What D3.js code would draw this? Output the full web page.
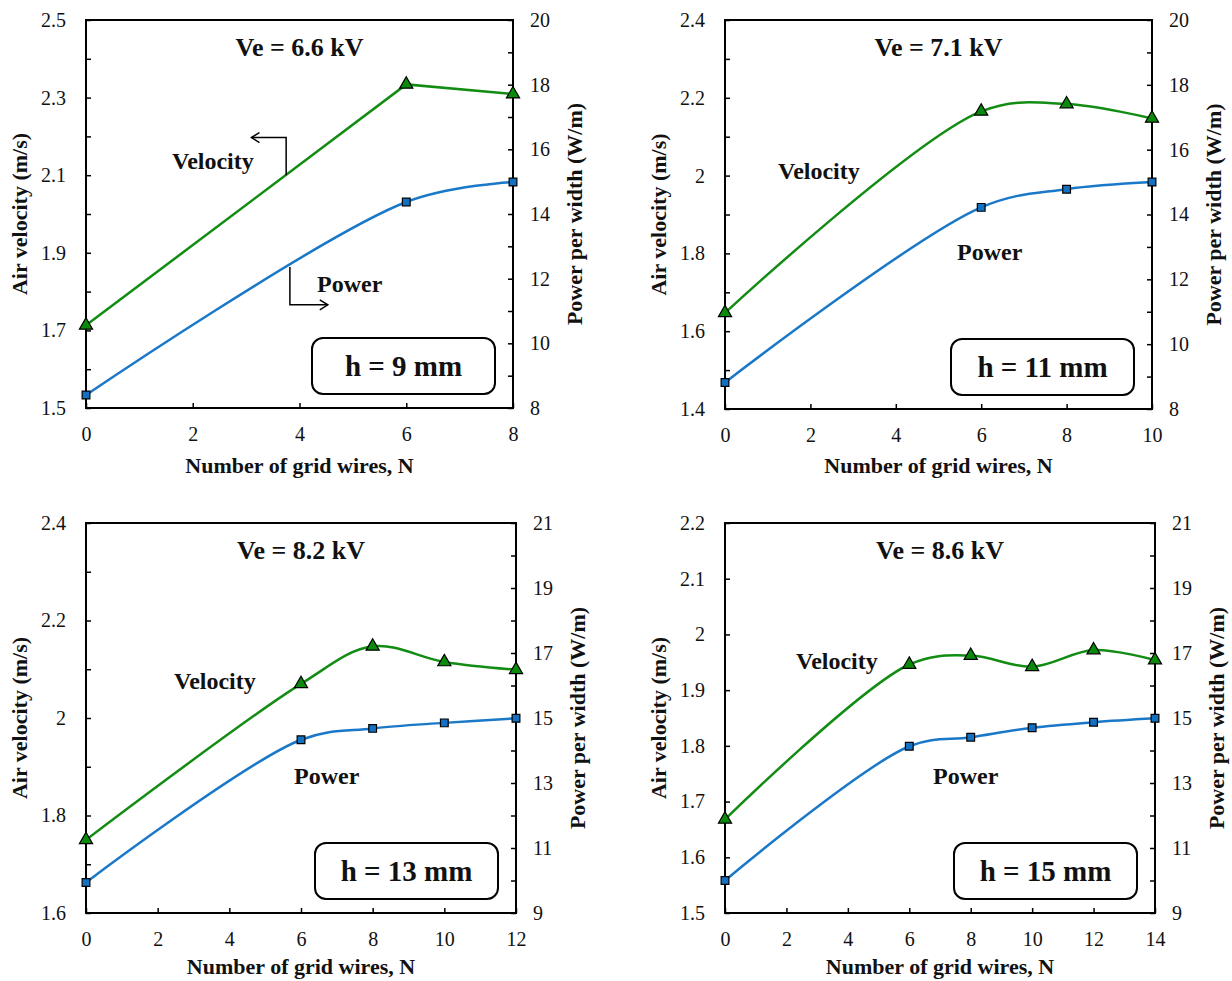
<!DOCTYPE html>
<html><head><meta charset="utf-8">
<script src="https://cdn.jsdelivr.net/npm/d3@7"></script>
<style>body{margin:0;background:#fff} svg text{font-family:'Liberation Serif','Times New Roman',serif;}</style>
</head><body>
<svg id="chart" width="1232" height="981"></svg>
<script>
// ---------- data ----------
const n1 = [0, 6, 8];
const vel1 = [1.713, 2.334, 2.309];
const pow1 = [8.40, 14.37, 14.99];

const n2 = [0, 6, 8, 10];
const vel2 = [1.647, 2.165, 2.184, 2.147];
const pow2 = [8.82, 14.22, 14.78, 15.00];

const n3 = [0, 6, 8, 10, 12];
const vel3 = [1.750, 2.070, 2.147, 2.115, 2.099];
const pow3 = [9.94, 14.33, 14.68, 14.85, 14.99];

const n4 = [0, 6, 8, 10, 12, 14];
const vel4 = [1.668, 1.946, 1.962, 1.942, 1.972, 1.954];
const pow4 = [10.00, 14.13, 14.41, 14.70, 14.87, 14.99];

const voltages = ["Ve = 6.6 kV", "Ve = 7.1 kV", "Ve = 8.2 kV", "Ve = 8.6 kV"];
const gaps = ["h = 9 mm", "h = 11 mm", "h = 13 mm", "h = 15 mm"];

const xTicks1 = [0, 2, 4, 6, 8];
const xTicks2 = [0, 2, 4, 6, 8, 10];
const xTicks3 = [0, 2, 4, 6, 8, 10, 12];
const xTicks4 = [0, 2, 4, 6, 8, 10, 12, 14];

const velTicks1 = [1.5, 1.7, 1.9, 2.1, 2.3, 2.5];
const velLabels1 = ["1.5", "1.7", "1.9", "2.1", "2.3", "2.5"];
const velMinor1 = [1.6, 1.8, 2.0, 2.2, 2.4];
const velTicks2 = [1.4, 1.6, 1.8, 2.0, 2.2, 2.4];
const velLabels2 = ["1.4", "1.6", "1.8", "2", "2.2", "2.4"];
const velMinor2 = [1.5, 1.7, 1.9, 2.1, 2.3];
const velTicks3 = [1.6, 1.8, 2.0, 2.2, 2.4];
const velLabels3 = ["1.6", "1.8", "2", "2.2", "2.4"];
const velMinor3 = [1.7, 1.9, 2.1, 2.3];
const velTicks4 = [1.5, 1.6, 1.7, 1.8, 1.9, 2.0, 2.1, 2.2];
const velLabels4 = ["1.5", "1.6", "1.7", "1.8", "1.9", "2", "2.1", "2.2"];
const velMinor4 = [];

const powTicks1 = [8, 10, 12, 14, 16, 18, 20];
const powMinor1 = [9, 11, 13, 15, 17, 19];
const powTicks2 = [8, 10, 12, 14, 16, 18, 20];
const powMinor2 = [9, 11, 13, 15, 17, 19];
const powTicks3 = [9, 11, 13, 15, 17, 19, 21];
const powMinor3 = [10, 12, 14, 16, 18, 20];
const powTicks4 = [9, 11, 13, 15, 17, 19, 21];
const powMinor4 = [10, 12, 14, 16, 18, 20];

// annotation arrows in panel 1 (data units)
const velArrow = { n: [3.75, 3.75, 3.10], v: [2.10, 2.197, 2.197] };
const powArrow = { n: [3.82, 3.82, 4.53], p: [12.36, 11.19, 11.19] };

// ---------- layout / style ----------
const CR = d3.curveCatmullRom.alpha(0.5);
const panels = [
  { L: 86,  R: 513,  T: 20,  B: 408, n: n1, vel: vel1, pow: pow1, xt: xTicks1, vt: velTicks1, vl: velLabels1, vm: velMinor1, pt: powTicks1, pm: powMinor1,
    velLab: [172, 169], powLab: [317, 292], vCurve: d3.curveLinear, pCurve: CR, titleOff: 65 },
  { L: 725, R: 1152, T: 20,  B: 409, n: n2, vel: vel2, pow: pow2, xt: xTicks2, vt: velTicks2, vl: velLabels2, vm: velMinor2, pt: powTicks2, pm: powMinor2,
    velLab: [778, 179], powLab: [957, 260], vCurve: CR, pCurve: CR, titleOff: 64 },
  { L: 86,  R: 516,  T: 523, B: 913, n: n3, vel: vel3, pow: pow3, xt: xTicks3, vt: velTicks3, vl: velLabels3, vm: velMinor3, pt: powTicks3, pm: powMinor3,
    velLab: [174, 689], powLab: [294, 784], vCurve: CR, pCurve: CR, titleOff: 61 },
  { L: 725, R: 1155, T: 523, B: 913, n: n4, vel: vel4, pow: pow4, xt: xTicks4, vt: velTicks4, vl: velLabels4, vm: velMinor4, pt: powTicks4, pm: powMinor4,
    velLab: [796, 669], powLab: [933, 784], vCurve: CR, pCurve: CR, titleOff: 61 }
];

const GREEN = "#138c13", BLUE = "#1a78c8", MGREEN = "#0a8a0a", MBLUE = "#1470c0";
const SERIF = "'Liberation Serif', 'Times New Roman', serif";
const svg = d3.select("#chart");

function txt(sel, size, bold) {
  return sel.style("font-family", SERIF).style("font-size", size + "px")
    .style("font-weight", bold ? "bold" : "normal").attr("fill", "#111");
}

panels.forEach((p, i) => {
  const g = svg.append("g");
  const x = d3.scaleLinear().domain([p.xt[0], p.xt[p.xt.length - 1]]).range([p.L, p.R]);
  const yv = d3.scaleLinear().domain([p.vt[0], p.vt[p.vt.length - 1]]).range([p.B, p.T]);
  const yp = d3.scaleLinear().domain([p.pt[0], p.pt[p.pt.length - 1]]).range([p.B, p.T]);

  const TL = 5;
  const axB = g.append("g").attr("transform", `translate(0,${p.B})`)
    .call(d3.axisBottom(x).tickValues(p.xt).tickSizeInner(-TL).tickSizeOuter(0).tickPadding(19).tickFormat(d3.format("d")));
  const axL = g.append("g").attr("transform", `translate(${p.L},0)`)
    .call(d3.axisLeft(yv).tickValues(p.vt).tickSizeInner(-TL).tickSizeOuter(0).tickPadding(20).tickFormat((d, k) => p.vl[k]));
  const axLm = g.append("g").attr("transform", `translate(${p.L},0)`)
    .call(d3.axisLeft(yv).tickValues(p.vm).tickSizeInner(-TL).tickSizeOuter(0).tickFormat(""));
  const axR = g.append("g").attr("transform", `translate(${p.R},0)`)
    .call(d3.axisRight(yp).tickValues(p.pt).tickSizeInner(-TL).tickSizeOuter(0).tickPadding(17).tickFormat(d3.format("d")));
  const axRm = g.append("g").attr("transform", `translate(${p.R},0)`)
    .call(d3.axisRight(yp).tickValues(p.pm).tickSizeInner(-TL).tickSizeOuter(0).tickFormat(""));

  [axB, axL, axLm, axR, axRm].forEach(a => {
    a.attr("font-family", null).attr("font-size", null);
    a.select(".domain").remove();
    a.selectAll("line").attr("stroke", "#000").attr("stroke-width", 1.5);
    txt(a.selectAll("text"), 20, false);
  });

  // frame
  g.append("rect").attr("x", p.L).attr("y", p.T).attr("width", p.R - p.L).attr("height", p.B - p.T)
    .attr("fill", "none").attr("stroke", "#000").attr("stroke-width", 2);

  // lines
  const velData = p.n.map((n, k) => ({ n, v: p.vel[k] }));
  const powData = p.n.map((n, k) => ({ n, v: p.pow[k] }));
  g.append("path").datum(velData).attr("fill", "none").attr("stroke", GREEN).attr("stroke-width", 2.5)
    .attr("d", d3.line().x(d => x(d.n)).y(d => yv(d.v)).curve(p.vCurve));
  g.append("path").datum(powData).attr("fill", "none").attr("stroke", BLUE).attr("stroke-width", 2.5)
    .attr("d", d3.line().x(d => x(d.n)).y(d => yp(d.v)).curve(p.pCurve));

  // markers
  g.selectAll(".tri").data(velData).join("path")
    .attr("transform", d => `translate(${x(d.n)},${yv(d.v)})`)
    .attr("d", d3.symbol(d3.symbolTriangle, 75))
    .attr("fill", MGREEN).attr("stroke", "#000").attr("stroke-width", 1.2);
  g.selectAll(".sq").data(powData).join("path")
    .attr("transform", d => `translate(${x(d.n)},${yp(d.v)})`)
    .attr("d", d3.symbol(d3.symbolSquare, 60))
    .attr("fill", MBLUE).attr("stroke", "#000").attr("stroke-width", 1.2);

  // titles
  const cx = (p.L + p.R) / 2, cy = (p.T + p.B) / 2;
  txt(g.append("text").attr("x", cx).attr("y", p.B + p.titleOff).attr("text-anchor", "middle"), 22, true)
    .text("Number of grid wires, N");
  txt(g.append("text").attr("transform", `translate(${p.L - 59},${cy}) rotate(-90)`).attr("text-anchor", "middle"), 22, true)
    .text("Air velocity (m/s)");
  txt(g.append("text").attr("transform", `translate(${p.R + 69},${cy}) rotate(-90)`).attr("text-anchor", "middle"), 22, true)
    .text("Power per width (W/m)");

  // Ve label
  txt(g.append("text").attr("x", cx).attr("y", p.T + 36).attr("text-anchor", "middle"), 26, true)
    .text(voltages[i]);

  // series labels
  txt(g.append("text").attr("x", p.velLab[0]).attr("y", p.velLab[1]), 24, true).text("Velocity");
  txt(g.append("text").attr("x", p.powLab[0]).attr("y", p.powLab[1]), 24, true).text("Power");

  // h box
  const bw = 183, bh = 56, bx = p.R - 18 - bw, by = p.B - 70;
  g.append("rect").attr("x", bx).attr("y", by).attr("width", bw).attr("height", bh).attr("rx", 11)
    .attr("fill", "#fff").attr("stroke", "#000").attr("stroke-width", 2);
  txt(g.append("text").attr("x", bx + bw / 2).attr("y", by + 38).attr("text-anchor", "middle"), 29, true)
    .text(gaps[i]);

  // arrows (panel 1)
  if (i === 0) {
    const va = velArrow.n.map((n, k) => [x(n), yv(velArrow.v[k])]);
    const pa = powArrow.n.map((n, k) => [x(n), yp(powArrow.p[k])]);
    [va, pa].forEach((pts, k) => {
      g.append("path").attr("d", d3.line()(pts)).attr("fill", "none").attr("stroke", "#000").attr("stroke-width", 1.5);
      const [ex, ey] = pts[2];
      const dir = k === 0 ? 1 : -1;
      g.append("path").attr("d", `M${ex + dir * 8},${ey - 5}L${ex},${ey}L${ex + dir * 8},${ey + 5}`)
        .attr("fill", "none").attr("stroke", "#000").attr("stroke-width", 1.5);
    });
  }
});
</script>
</body></html>
